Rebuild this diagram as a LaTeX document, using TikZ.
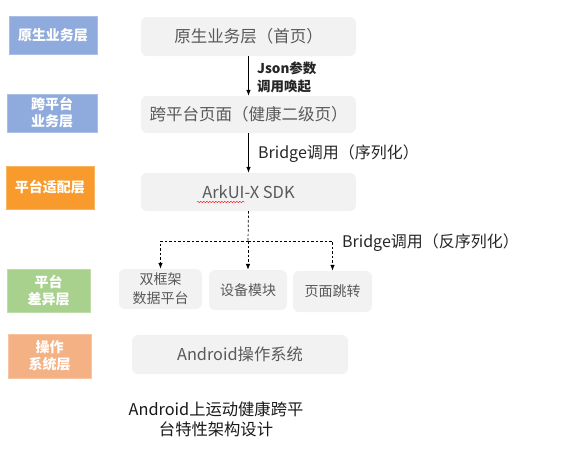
\documentclass[tikz,border=0pt]{standalone}
\usepackage{fontspec}
\setmainfont{Noto Sans CJK SC}
\usetikzlibrary{arrows.meta,decorations.pathmorphing}
\definecolor{lblue}{HTML}{8FAADC}
\definecolor{lorange}{HTML}{F99B2C}
\definecolor{lgreen}{HTML}{A9D18E}
\definecolor{lsalmon}{HTML}{F4B183}
\definecolor{boxfill}{HTML}{F2F2F2}
\definecolor{boxtext}{HTML}{595959}
\definecolor{labtext}{HTML}{262626}
\tikzset{
  layer/.style={draw=#1!75!white, line width=0.6pt, fill=#1, text=white, font=\fontsize{14}{17}\selectfont\bfseries, align=center, inner sep=0pt},
  panel/.style={fill=boxfill, rounded corners=6pt, text=boxtext, align=center, inner sep=0pt},
  arr/.style={-{Latex[length=6pt,width=4.5pt]}, line width=0.7pt, black},
  darr/.style={-{Latex[length=6pt,width=4.5pt]}, line width=0.7pt, black, dash pattern=on 2.5pt off 2pt},
  dline/.style={line width=0.7pt, black, dash pattern=on 2.5pt off 2pt},
  lab/.style={text=labtext, anchor=west, inner sep=0pt, align=left},
}
\begin{document}
\begin{tikzpicture}[x=1pt,y=-1pt]
\useasboundingbox (0,0) rectangle (563,453);
% left layer labels
\node[layer=lblue, minimum width=88pt, minimum height=38pt] (L1) at (53,35) {原生业务层};
\node[layer=lblue, minimum width=90pt, minimum height=38pt] (L2) at (52,113) {跨平台\\业务层};
\node[layer=lorange, minimum width=88pt, minimum height=43pt] (L3) at (50,187.5) {平台适配层};
\node[layer=lgreen, minimum width=83pt, minimum height=43pt] (L4) at (48.5,290.5) {平台\\差异层};
\node[layer=lsalmon, minimum width=83pt, minimum height=44pt] (L5) at (49.5,356) {操作\\系统层};
% main panels
\node[panel, minimum width=215pt, minimum height=39pt, font=\fontsize{16.5}{19}\selectfont] (B1) at (248.5,36.5) {原生业务层（首页）};
\node[panel, minimum width=215pt, minimum height=37pt, font=\fontsize{16.5}{19}\selectfont] (B2) at (248.5,114.5) {跨平台页面（健康二级页）};
\node[panel, minimum width=215pt, minimum height=38pt, font=\fontsize{16.5}{19}\selectfont] (B3) at (248.5,192) {ArkUI-X SDK};
\node[panel, minimum width=83pt, minimum height=40pt, font=\fontsize{14}{19}\selectfont] (Ba) at (160.5,289) {双框架\\数据平台};
\node[panel, minimum width=78pt, minimum height=40pt, font=\fontsize{14}{19}\selectfont] (Bb) at (248,290) {设备模块};
\node[panel, minimum width=79pt, minimum height=41pt, font=\fontsize{14}{19}\selectfont] (Bc) at (332.5,291.5) {页面跳转};
\node[panel, minimum width=216pt, minimum height=39pt, font=\fontsize{16.3}{19}\selectfont] (B5) at (240,354.5) {Android操作系统};
% spell-check underline
\draw[red, line width=0.4pt, decorate, decoration={snake, amplitude=0.7pt, segment length=3pt}] (197,202) -- (245,202);
% connectors
\draw[arr] (B1.south) -- (B2.north);
\node[lab, font=\fontsize{13.5}{18}\selectfont\bfseries] (J) at (257,77) {Json参数\\调用唤起};
\draw[arr] (B2.south) -- (B3.north);
\node[lab, font=\fontsize{16}{19}\selectfont] (Br1) at (258,154) {Bridge调用（序列化）};
\coordinate (hub) at (248,241);
\draw[dline] (B3.south) -- (hub);
\draw[darr] (hub) -| (Ba.north);
\draw[darr] (hub) -- (Bb.north);
\draw[darr] (hub) -| (Bc.north);
\node[lab, font=\fontsize{16}{19}\selectfont] (Br2) at (342,243) {Bridge调用（反序列化）};
% caption
\node[text=black!90, align=center, inner sep=0pt, font=\fontsize{16.3}{20}\selectfont] (cap) at (216,419) {Android上运动健康跨平\\台特性架构设计};
\end{tikzpicture}
\end{document}
